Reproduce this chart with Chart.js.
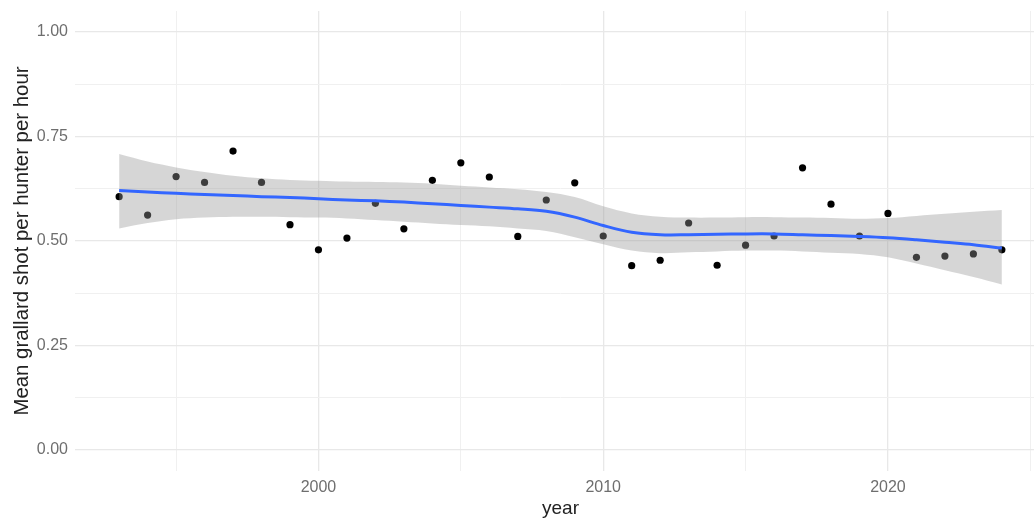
<!DOCTYPE html>
<html>
<head>
<meta charset="utf-8">
<script src="https://cdn.jsdelivr.net/npm/chart.js@4.4.1/dist/chart.umd.min.js"></script>
<style>
  html, body { margin: 0; padding: 0; background: #fff; overflow: hidden; }
  #wrap { position: relative; width: 1050px; height: 519px; }
</style>
</head>
<body>
<div id="wrap"><canvas id="chart"></canvas></div>
<script>
const years = [1993, 1994, 1995, 1996, 1997, 1998, 1999, 2000, 2001, 2002, 2003, 2004, 2005, 2006, 2007, 2008,
    2009, 2010, 2011, 2012, 2013, 2014, 2015, 2016, 2017, 2018, 2019, 2020, 2021, 2022, 2023, 2024];

// mean grallard shot per hunter per hour, one point per year
const rates = [0.606, 0.562, 0.654, 0.640, 0.715, 0.640, 0.539, 0.479, 0.507, 0.590, 0.529, 0.645, 0.687, 0.653,
    0.511, 0.598, 0.639, 0.512, 0.441, 0.454, 0.543, 0.442, 0.490, 0.512, 0.675, 0.588, 0.512, 0.566, 0.461,
    0.464, 0.469, 0.479];

// smoother and its confidence band at each year
const smooth = [0.621, 0.617, 0.614, 0.611, 0.609, 0.606, 0.604, 0.601, 0.598, 0.596, 0.593, 0.589, 0.585, 0.581,
    0.577, 0.571, 0.557, 0.537, 0.521, 0.515, 0.515, 0.516, 0.517, 0.517, 0.515, 0.513, 0.511, 0.508, 0.503,
    0.497, 0.491, 0.483];
const bandHigh = [0.708, 0.690, 0.676, 0.665, 0.656, 0.650, 0.646, 0.644, 0.642, 0.641, 0.640, 0.637, 0.632, 0.628,
    0.624, 0.617, 0.605, 0.583, 0.566, 0.558, 0.556, 0.556, 0.557, 0.557, 0.556, 0.555, 0.553, 0.555, 0.560,
    0.565, 0.570, 0.574];
const bandLow = [0.530, 0.543, 0.552, 0.556, 0.558, 0.558, 0.557, 0.556, 0.554, 0.550, 0.546, 0.542, 0.538, 0.535,
    0.530, 0.524, 0.509, 0.492, 0.477, 0.471, 0.473, 0.475, 0.477, 0.477, 0.475, 0.472, 0.469, 0.461, 0.446,
    0.430, 0.414, 0.396];

const yGrid = [0, 0.125, 0.25, 0.375, 0.5, 0.625, 0.75, 0.875, 1];
const yLabelled = [0, 0.25, 0.5, 0.75, 1];
const xGrid = [1995, 2000, 2005, 2010, 2015, 2020, 2025];
const xLabelled = [2000, 2010, 2020];

const FONT = "'Liberation Sans', Arial, sans-serif";
const TICK_COLOR = '#6e6e6e';
const TITLE_COLOR = '#222222';

const pts = (ys) => years.map((x, i) => ({ x, y: ys[i] }));
const isMajor = (v, list) => list.some((m) => Math.abs(m - v) < 1e-6);

new Chart(document.getElementById('chart'), {
    type: 'scatter',
    data: {
        datasets: [
            {
                label: 'loess',
                data: pts(smooth),
                showLine: true,
                borderColor: '#3366FF',
                borderWidth: 3,
                pointRadius: 0,
                tension: 0.35,
                order: 1,
            },
            {
                label: 'upper',
                data: pts(bandHigh),
                showLine: true,
                borderWidth: 0,
                borderColor: 'rgba(0,0,0,0)',
                pointRadius: 0,
                tension: 0.35,
                fill: false,
                order: 2,
            },
            {
                label: 'lower',
                data: pts(bandLow),
                showLine: true,
                borderWidth: 0,
                borderColor: 'rgba(0,0,0,0)',
                backgroundColor: 'rgba(153,153,153,0.4)',
                pointRadius: 0,
                tension: 0.35,
                fill: '-1',
                order: 2,
            },
            {
                label: 'rate',
                data: pts(rates),
                pointRadius: 3.6,
                pointBackgroundColor: '#000',
                pointBorderWidth: 0,
                order: 3,
            },
        ],
    },
    options: {
        responsive: true,
        maintainAspectRatio: false,
        animation: false,
        layout: { padding: { top: 11, right: 0, left: 0, bottom: 0 } },
        plugins: {
            legend: { display: false },
            tooltip: { enabled: false },
        },
        scales: {
            x: {
                type: 'linear',
                min: 1991.45,
                max: 2025.55,
                afterBuildTicks(scale) {
                    scale.ticks = xGrid.map((value) => ({ value }));
                },
                afterFit(scale) {
                    scale.height = 48;
                    scale.paddingLeft = 0;
                    scale.paddingRight = 0;
                },
                border: { display: false },
                grid: {
                    drawTicks: false,
                    color: (c) => (isMajor(c.tick.value, xLabelled) ? '#e8e8e8' : '#f0f0f0'),
                    lineWidth: (c) => (isMajor(c.tick.value, xLabelled) ? 1.3 : 1),
                },
                ticks: {
                    padding: 7,
                    color: TICK_COLOR,
                    font: { family: FONT, size: 16 },
                    maxRotation: 0,
                    callback: (v) => (isMajor(v, xLabelled) ? String(v) : ''),
                },
                title: {
                    display: true,
                    text: 'year',
                    color: TITLE_COLOR,
                    font: { family: FONT, size: 19 },
                    padding: { top: 0, bottom: -1 },
                },
            },
            y: {
                min: -0.05,
                max: 1.05,
                afterBuildTicks(scale) {
                    scale.ticks = yGrid.map((value) => ({ value }));
                },
                afterFit(scale) {
                    scale.width = 75;
                    scale.paddingTop = 0;
                    scale.paddingBottom = 0;
                },
                border: { display: false },
                grid: {
                    drawTicks: false,
                    color: (c) => (isMajor(c.tick.value, yLabelled) ? '#e8e8e8' : '#f0f0f0'),
                    lineWidth: (c) => (isMajor(c.tick.value, yLabelled) ? 1.3 : 1),
                },
                ticks: {
                    padding: 7,
                    color: TICK_COLOR,
                    font: { family: FONT, size: 16 },
                    callback: (v) => (isMajor(v, yLabelled) ? v.toFixed(2) : ''),
                },
                title: {
                    display: true,
                    text: 'Mean grallard shot per hunter per hour',
                    color: TITLE_COLOR,
                    font: { family: FONT, size: 20.4 },
                    padding: { top: 10, bottom: 0 },
                },
            },
        },
    },
});
</script>
</body>
</html>
